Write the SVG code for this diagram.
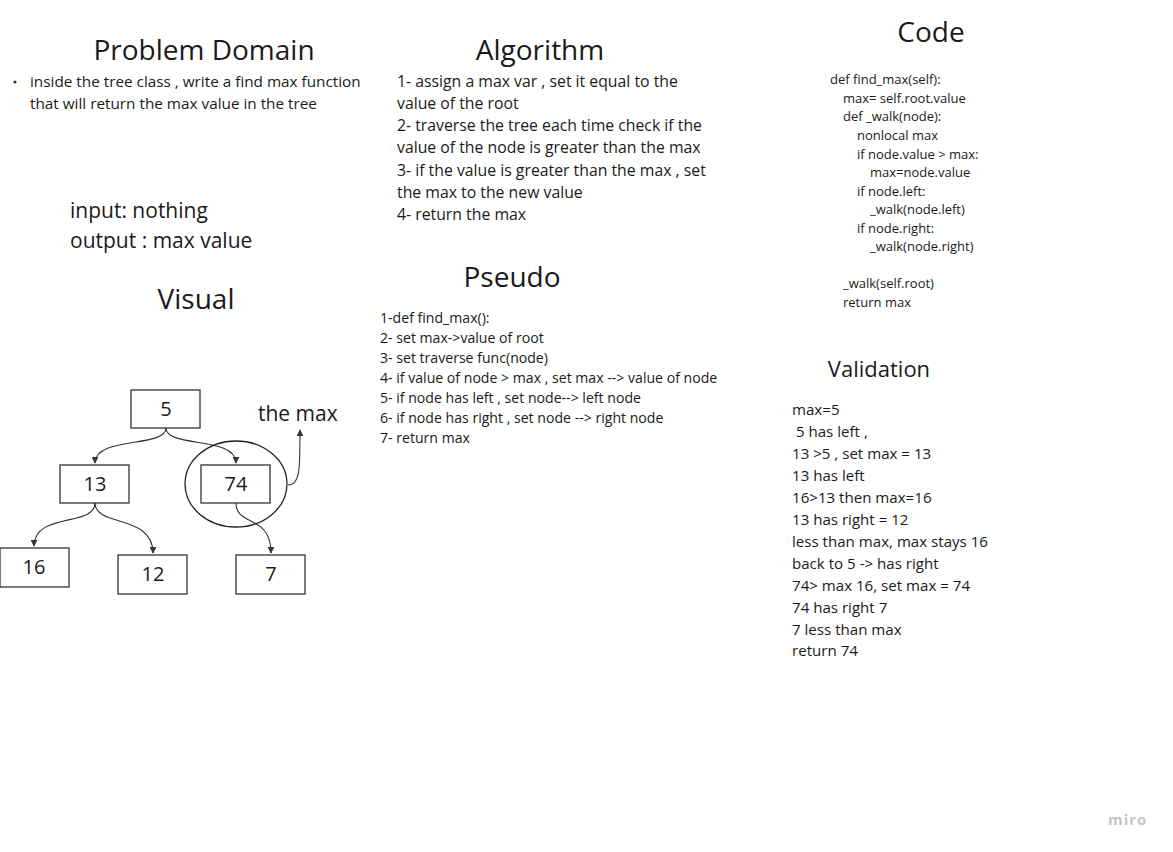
<svg xmlns="http://www.w3.org/2000/svg" width="1173" height="852" viewBox="0 0 1173 852">
<style>
text{font-family:"Open Sans","Noto Sans","Liberation Sans",sans-serif;fill:#1a1a1a}
.h{font-size:28px;text-anchor:middle}
.alg{font-size:15.8px}
.pd{font-size:15.3px}
.code{font-size:13px}
.ps{font-size:14.1px}
.val{font-size:15.1px}
.io{font-size:21px}
.nd{font-size:20px;text-anchor:middle}
.box{fill:#fff;stroke:#333;stroke-width:1.3}
.edge{fill:none;stroke:#333;stroke-width:1.1;marker-end:url(#ah)}
</style>
<defs>
<marker id="ah" viewBox="0 0 10 10" refX="9" refY="5" markerWidth="7" markerHeight="7" markerUnits="userSpaceOnUse" orient="auto">
<path d="M0,0 L10,5 L0,10 Z" fill="#333"/>
</marker>
</defs>
<rect width="1173" height="852" fill="#fff"/>

<g id="problem-domain">
<text class="h" x="204" y="60">Problem Domain</text>
<circle cx="15" cy="82" r="1.5" fill="#333"/>
<text class="pd" x="30" y="87">inside the tree class , write a find max function</text>
<text class="pd" x="30" y="109">that will return the max value in the tree</text>
<text class="io" x="70" y="218">input: nothing</text>
<text class="io" x="70" y="248">output : max value</text>
</g>

<g id="algorithm">
<text class="h" x="540" y="60">Algorithm</text>
<text class="alg" x="397" y="87">1- assign a max var , set it equal to the</text>
<text class="alg" x="397" y="109">value of the root</text>
<text class="alg" x="397" y="131">2- traverse the tree each time check if the</text>
<text class="alg" x="397" y="153">value of the node is greater than the max</text>
<text class="alg" x="397" y="176">3- if the value is greater than the max , set</text>
<text class="alg" x="397" y="198">the max to the new value</text>
<text class="alg" x="397" y="220">4- return the max</text>
</g>

<g id="code">
<text class="h" x="931" y="42">Code</text>
<text class="code" x="830" y="84">def find_max(self):</text>
<text class="code" x="843" y="103">max= self.root.value</text>
<text class="code" x="843" y="121">def _walk(node):</text>
<text class="code" x="857" y="140">nonlocal max</text>
<text class="code" x="857" y="159">if node.value &gt; max:</text>
<text class="code" x="870" y="177">max=node.value</text>
<text class="code" x="857" y="196">if node.left:</text>
<text class="code" x="870" y="214">_walk(node.left)</text>
<text class="code" x="857" y="233">if node.right:</text>
<text class="code" x="870" y="251">_walk(node.right)</text>
<text class="code" x="843" y="288">_walk(self.root)</text>
<text class="code" x="843" y="307">return max</text>
</g>

<g id="pseudo">
<text class="h" x="512" y="287">Pseudo</text>
<text class="ps" x="380" y="323">1-def find_max():</text>
<text class="ps" x="380" y="343">2- set max-&gt;value of root</text>
<text class="ps" x="380" y="363">3- set traverse func(node)</text>
<text class="ps" x="380" y="383">4- if value of node &gt; max , set max --&gt; value of node</text>
<text class="ps" x="380" y="403">5- if node has left , set node--&gt; left node</text>
<text class="ps" x="380" y="423">6- if node has right , set node --&gt; right node</text>
<text class="ps" x="380" y="443">7- return max</text>
</g>

<g id="validation">
<text x="879" y="377" style="font-size:22px;text-anchor:middle">Validation</text>
<text class="val" x="792" y="415">max=5</text>
<text class="val" x="792" y="437" xml:space="preserve"> 5 has left ,</text>
<text class="val" x="792" y="459">13 &gt;5 , set max = 13</text>
<text class="val" x="792" y="481">13 has left</text>
<text class="val" x="792" y="503">16&gt;13 then max=16</text>
<text class="val" x="792" y="525">13 has right = 12</text>
<text class="val" x="792" y="547">less than max, max stays 16</text>
<text class="val" x="792" y="569">back to 5 -&gt; has right</text>
<text class="val" x="792" y="591">74&gt; max 16, set max = 74</text>
<text class="val" x="792" y="613">74 has right 7</text>
<text class="val" x="792" y="635">7 less than max</text>
<text class="val" x="792" y="656">return 74</text>
</g>

<g id="visual-title">
<text class="h" x="196" y="309">Visual</text>
</g>

<g id="connectors">
<path class="edge" d="M166,428 C166,448 95,436 95,463"/>
<path class="edge" d="M166,428 C166,448 236,436 236,463"/>
<path class="edge" d="M95,503 C95,527 34,512 34,546"/>
<path class="edge" d="M95,503 C95,527 153,514 153,553"/>
<path class="edge" d="M236,503 C236,527 271,514 271,553"/>
<path class="edge" d="M288,485 C300,485 300,470 300,430"/>
</g>

<g id="node-5"><rect class="box" x="131" y="390" width="69" height="38"/><text class="nd" x="166" y="416">5</text></g>
<g id="node-13"><rect class="box" x="60" y="465" width="69" height="38"/><text class="nd" x="95" y="491">13</text></g>
<g id="node-74"><rect class="box" x="201" y="465" width="69" height="38"/><text class="nd" x="236" y="491">74</text></g>
<g id="node-16"><rect class="box" x="0" y="548" width="69" height="39"/><text class="nd" x="34" y="574">16</text></g>
<g id="node-12"><rect class="box" x="118" y="555" width="69" height="39"/><text class="nd" x="153" y="581">12</text></g>
<g id="node-7"><rect class="box" x="236" y="555" width="69" height="39"/><text class="nd" x="271" y="581">7</text></g>
<g id="max-circle"><ellipse cx="236" cy="484" rx="51" ry="43" fill="none" stroke="#222" stroke-width="1.3"/></g>
<g id="the-max-label"><text x="258" y="421" style="font-size:21px">the max</text></g>

<text x="1108" y="825" style="font-size:15px;font-weight:bold;fill:#c4c4d4;letter-spacing:1px">miro</text>
</svg>
